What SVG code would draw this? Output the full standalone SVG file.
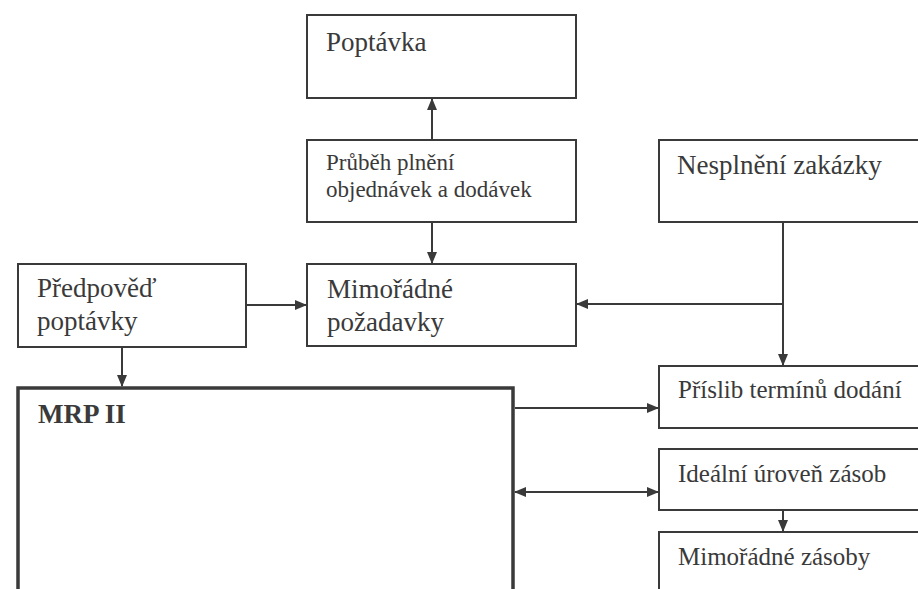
<svg xmlns="http://www.w3.org/2000/svg" width="918" height="589" viewBox="0 0 918 589">
<defs>
<style>
.box{fill:#fff;stroke:#3a3a3a;stroke-width:2}
.mrp{fill:#fff;stroke:#3a3a3a;stroke-width:3.5}
.t{font-family:"Liberation Serif","Times New Roman",serif;fill:#3a3a3a}
.c{fill:none;stroke:#3a3a3a;stroke-width:2}
</style>
<marker id="ah" markerWidth="12" markerHeight="12" refX="11" refY="6" orient="auto-start-reverse" markerUnits="userSpaceOnUse">
<path d="M0,1 L12,6 L0,11 Z" fill="#3a3a3a"/>
</marker>
</defs>
<rect width="918" height="589" fill="#fff"/>
<g id="poptavka">
<rect class="box" x="307" y="15" width="269" height="83"/>
<text class="t" x="326" y="51" font-size="27">Poptávka</text>
</g>
<g id="prubeh">
<rect class="box" x="307" y="140" width="269" height="82"/>
<text class="t" x="326" y="170" font-size="23">Průběh plnění</text>
<text class="t" x="326" y="197" font-size="23">objednávek a dodávek</text>
</g>
<g id="nesplneni">
<rect class="box" x="659" y="140" width="270" height="82"/>
<text class="t" x="677" y="174" font-size="27">Nesplnění zakázky</text>
</g>
<g id="predpoved">
<rect class="box" x="18" y="264" width="228" height="83"/>
<text class="t" x="37" y="297" font-size="27">Předpověď</text>
<text class="t" x="37" y="330" font-size="27">poptávky</text>
</g>
<g id="mimoradne-pozadavky">
<rect class="box" x="307" y="264" width="269" height="82"/>
<text class="t" x="327" y="298" font-size="27">Mimořádné</text>
<text class="t" x="327" y="331" font-size="27">požadavky</text>
</g>
<g id="mrp">
<rect class="mrp" x="18" y="388" width="495" height="220"/>
<text class="t" x="38" y="423" font-size="27" font-weight="bold">MRP II</text>
</g>
<g id="prislib">
<rect class="box" x="659" y="366" width="270" height="62"/>
<text class="t" x="678" y="398" font-size="25">Příslib termínů dodání</text>
</g>
<g id="idealni">
<rect class="box" x="659" y="449" width="270" height="61"/>
<text class="t" x="678" y="482" font-size="25">Ideální úroveň zásob</text>
</g>
<g id="mimoradne-zasoby">
<rect class="box" x="659" y="532" width="270" height="80"/>
<text class="t" x="678" y="565" font-size="25">Mimořádné zásoby</text>
</g>
<g id="connectors">
<line class="c" x1="432" y1="140" x2="432" y2="99" marker-end="url(#ah)"/>
<line class="c" x1="432" y1="222" x2="432" y2="263" marker-end="url(#ah)"/>
<line class="c" x1="246" y1="305" x2="306" y2="305" marker-end="url(#ah)"/>
<line class="c" x1="122" y1="347" x2="122" y2="386" marker-end="url(#ah)"/>
<line class="c" x1="783" y1="222" x2="783" y2="365" marker-end="url(#ah)"/>
<line class="c" x1="783" y1="304" x2="577" y2="304" marker-end="url(#ah)"/>
<line class="c" x1="515" y1="408" x2="658" y2="408" marker-end="url(#ah)"/>
<line class="c" x1="515" y1="492" x2="658" y2="492" marker-start="url(#ah)" marker-end="url(#ah)"/>
<line class="c" x1="783" y1="510" x2="783" y2="531" marker-end="url(#ah)"/>
</g>
</svg>
